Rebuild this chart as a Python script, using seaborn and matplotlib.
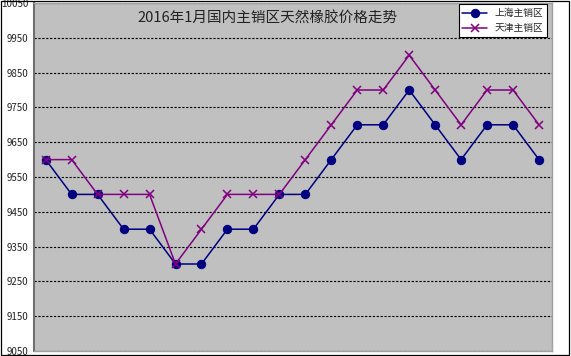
import pandas as pd
import seaborn as sns
import matplotlib.pyplot as plt
from matplotlib.patches import Rectangle

# 2016年1月 上海 / 天津 主销区 天然橡胶价格
dias = list(range(20))
shanghai = [9600, 9500, 9500, 9400, 9400, 9300, 9300, 9400, 9400, 9500,
            9500, 9600, 9700, 9700, 9800, 9700, 9600, 9700, 9700, 9600]
tianjin = [9600, 9600, 9500, 9500, 9500, 9300, 9400, 9500, 9500, 9500,
           9600, 9700, 9800, 9800, 9900, 9800, 9700, 9800, 9800, 9700]
yticks = list(range(9050, 10051, 100))

df = pd.DataFrame({'dia': dias, 'sh': shanghai, 'tj': tianjin})

sns.set_style('white')
plt.rcParams['font.family'] = ['Noto Sans CJK SC', 'DejaVu Sans']

fig = plt.figure(figsize=(5.71, 3.56), dpi=100)
ax = fig.add_axes([34 / 571, 5 / 356, (552 - 34) / 571, (351 - 3) / 356])
ax.set_facecolor('#c0c0c0')

sns.lineplot(data=df, x='dia', y='sh', ax=ax, color='#000080', marker='o',
             markersize=6, markeredgecolor='#000080', linewidth=1.1, label='上海主销区')
sns.lineplot(data=df, x='dia', y='tj', ax=ax, color='#800080', marker='x',
             markersize=6, markeredgecolor='#800080', markeredgewidth=1.1,
             linewidth=1.1, label='天津主销区')

ax.set_xlim(-0.45, 19.5)
ax.set_ylim(9050, 10050)
ax.set_yticks(yticks)
ax.set_yticklabels([str(v) for v in yticks], fontsize=7, color='#222222')
ax.set_xticks([])
ax.set_xlabel('')
ax.set_ylabel('')
ax.tick_params(axis='y', length=0, pad=4)
ax.yaxis.grid(True, color='black', linestyle=(0, (2, 1.5)), linewidth=0.8)
ax.set_axisbelow(True)
for lado in ['top', 'right', 'bottom']:
    ax.spines[lado].set_color('#a0a0a0')
    ax.spines[lado].set_linewidth(1)
ax.spines['left'].set_color('#707070')
ax.spines['left'].set_linewidth(1.5)

ax.text(0.45, 0.955, '2016年1月国内主销区天然橡胶价格走势', transform=ax.transAxes,
        ha='center', va='center', fontsize=10.5, color='#222222')

leg = ax.legend(loc='upper right', bbox_to_anchor=(1.0, 1.01), fontsize=7,
                frameon=True, fancybox=False, edgecolor='black',
                handlelength=2.5, borderpad=0.4, labelspacing=0.5, framealpha=1)
leg.get_frame().set_linewidth(0.8)

fig.patches.append(Rectangle((0.001, 0.004), 0.995, 0.994, transform=fig.transFigure,
                             fill=False, edgecolor='black', linewidth=0.9))

fig.savefig('out.png', dpi=100)
